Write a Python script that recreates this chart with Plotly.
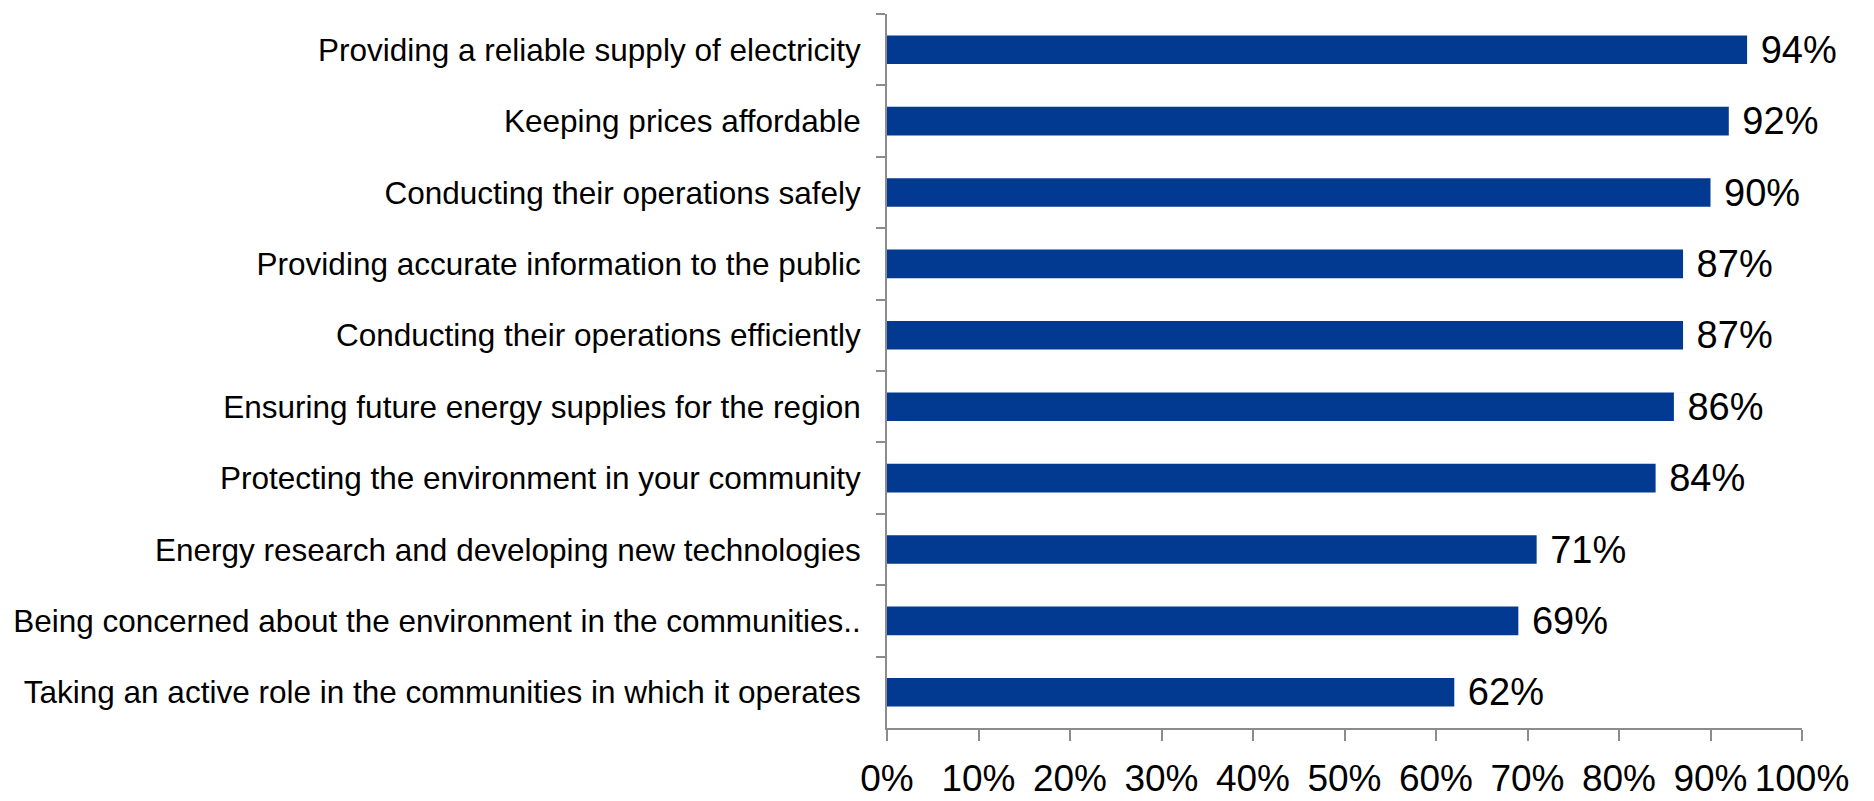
import plotly.graph_objects as go

categories = [
    "Providing a reliable supply of electricity",
    "Keeping prices affordable",
    "Conducting their operations safely",
    "Providing accurate information to the public",
    "Conducting their operations efficiently",
    "Ensuring future energy supplies for the region",
    "Protecting the environment in your community",
    "Energy research and developing new technologies",
    "Being concerned about the environment in the communities..",
    "Taking an active role in the communities in which it operates",
]
values = [94, 92, 90, 87, 87, 86, 84, 71, 69, 62]
x_ticks = [0, 10, 20, 30, 40, 50, 60, 70, 80, 90, 100]
x_tick_labels = [f"{t}%" for t in x_ticks]

FONT = "Liberation Sans, Arial, sans-serif"
BAR_COLOR = "#023a92"
AXIS_COLOR = "#8c8c8c"

fig = go.Figure(
    go.Bar(
        x=values,
        y=categories,
        orientation="h",
        marker=dict(color=BAR_COLOR, line=dict(width=0)),
        text=[f" {v}%" for v in values],
        textposition="outside",
        textfont=dict(family=FONT, size=38, color="black"),
        constraintext="none",
        cliponaxis=False,
        hoverinfo="skip",
    )
)

fig.update_layout(
    width=1874,
    height=801,
    margin=dict(l=887, r=72, t=14, b=73),
    paper_bgcolor="white",
    plot_bgcolor="white",
    bargap=0.6,
    showlegend=False,
    font=dict(family=FONT, color="black"),
)

fig.update_xaxes(
    range=[0, 100],
    tickvals=x_ticks,
    ticktext=x_tick_labels,
    automargin=False,
    showgrid=False,
    zeroline=False,
    showline=True,
    linecolor=AXIS_COLOR,
    linewidth=2,
    ticks="outside",
    ticklen=11,
    tickwidth=2,
    tickcolor=AXIS_COLOR,
    tickfont=dict(family=FONT, size=37, color="black"),
    ticklabelstandoff=6,
)

fig.update_yaxes(
    autorange="reversed",
    automargin=False,
    showgrid=False,
    zeroline=False,
    showline=True,
    linecolor=AXIS_COLOR,
    linewidth=2,
    ticks="outside",
    tickson="boundaries",
    ticklen=9,
    tickwidth=2,
    tickcolor=AXIS_COLOR,
    tickfont=dict(family=FONT, size=31.5, color="black"),
    ticklabelstandoff=18,
)

fig.write_html("out.html")
